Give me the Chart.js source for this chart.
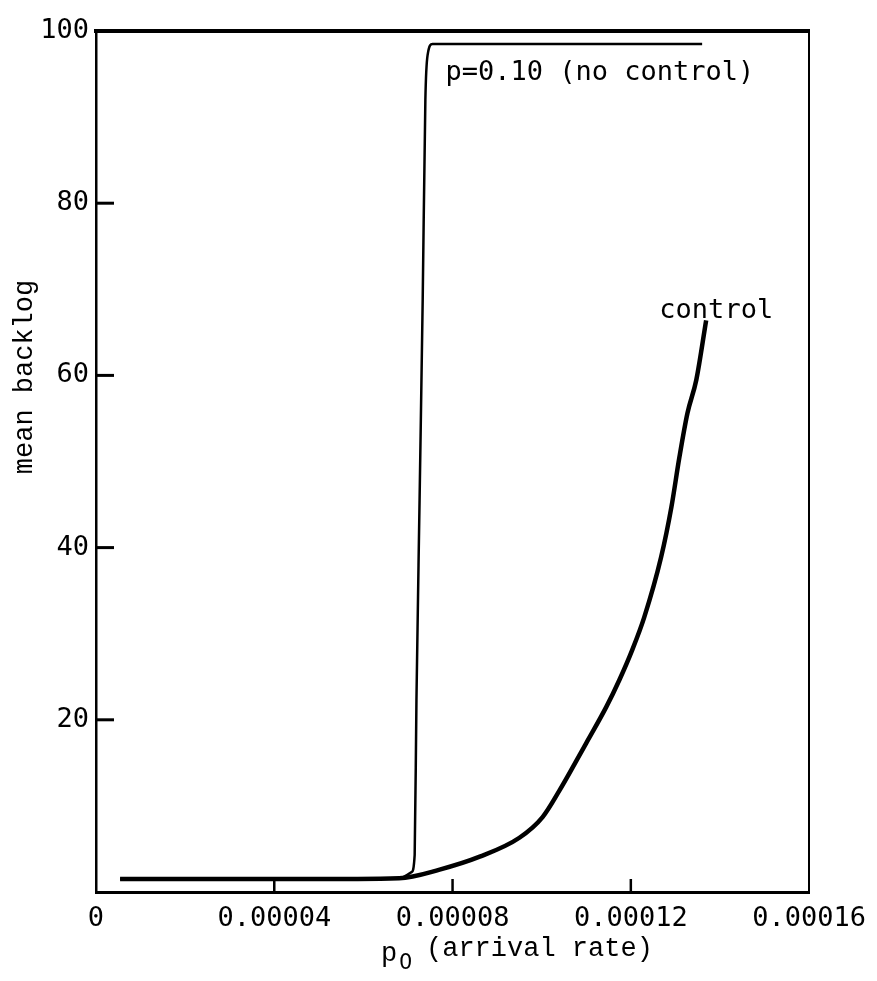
<!DOCTYPE html>
<html>
<head>
<meta charset="utf-8">
<script src="https://cdn.jsdelivr.net/npm/chart.js@4"></script>
<style>
  body { margin: 0; background: #fff; }
  #wrap { width: 877px; height: 981px; }
</style>
</head>
<body>
<div id="wrap"><canvas id="myChart"></canvas></div>
<script>
// arrival rate p0 vs mean backlog
const noControlX = [0.0000054, 0.000068, 0.0000708, 0.0000715, 0.0000719, 0.0000726, 0.0000733, 0.0000739, 0.0000744, 0.0000755, 0.000136];
const noControlY = [1.5, 1.6, 2.3, 4.3, 22.3, 45.5, 68.8, 92, 97.2, 98.5, 98.5];

const controlX = [0.0000054, 0.0000457, 0.000068, 0.0000771, 0.0000861, 0.000095, 0.0001002, 0.000104, 0.00011, 0.0001145, 0.0001174, 0.0001203, 0.000123, 0.0001268, 0.0001291, 0.0001309, 0.0001327, 0.0001347, 0.0001369];
const controlY = [1.5, 1.5, 1.6, 2.6, 4.1, 6.3, 8.7, 11.8, 17.3, 21.5, 24.6, 28.1, 31.9, 38.9, 44.7, 50.5, 55.6, 59.5, 66.4];

const xTickLabels = ['0', '0.00004', '0.00008', '0.00012', '0.00016'];
const yTickLabels = ['', '20', '40', '60', '80', '100'];

const toPoints = (xs, ys) => xs.map((x, i) => ({x: x, y: ys[i]}));

const tickFont = {family: 'DejaVu Sans Mono', size: 27};

// inward tick marks, axis titles and curve labels
const extras = {
  id: 'extras',
  afterDraw(chart) {
    const ctx = chart.ctx;
    const xs = chart.scales.x, ys = chart.scales.y;
    const area = chart.chartArea;
    ctx.save();
    ctx.strokeStyle = '#000';
    ctx.lineCap = 'butt';
    ctx.lineWidth = 3;
    [20, 40, 60, 80].forEach(v => {
      const py = ys.getPixelForValue(v);
      ctx.beginPath();
      ctx.moveTo(area.left, py);
      ctx.lineTo(area.left + 18, py);
      ctx.stroke();
    });
    ctx.lineWidth = 2.5;
    [0.00004, 0.00008, 0.00012].forEach(v => {
      const px = xs.getPixelForValue(v);
      ctx.beginPath();
      ctx.moveTo(px, area.bottom);
      ctx.lineTo(px, area.bottom - 13);
      ctx.stroke();
    });

    ctx.fillStyle = '#000';
    ctx.textBaseline = 'middle';
    ctx.textAlign = 'left';
    ctx.font = '27px "DejaVu Sans Mono"';
    ctx.fillText('p=0.10 (no control)', xs.getPixelForValue(0.0000784), ys.getPixelForValue(95.1));
    ctx.fillText('control', xs.getPixelForValue(0.0001264), ys.getPixelForValue(67.5));

    // x axis title with subscript
    ctx.font = '27px "Liberation Mono"';
    ctx.fillText('p', 381, 954);
    ctx.font = '21px "DejaVu Sans"';
    ctx.fillText('0', 399, 964);
    ctx.font = '27px "Liberation Mono"';
    ctx.fillText('(arrival rate)', 426, 949);

    // y axis title
    ctx.translate(25, 377);
    ctx.rotate(-Math.PI / 2);
    ctx.textAlign = 'center';
    ctx.fillText('mean backlog', 0, 0);
    ctx.restore();
  }
};

const config = {
  type: 'scatter',
  data: {
    datasets: [{
      label: 'p=0.10 (no control)',
      data: toPoints(noControlX, noControlY),
      showLine: true,
      borderColor: '#000',
      borderWidth: 2.5,
      pointRadius: 0,
      cubicInterpolationMode: 'monotone'
    }, {
      label: 'control',
      data: toPoints(controlX, controlY),
      showLine: true,
      borderColor: '#000',
      borderWidth: 4.5,
      pointRadius: 0,
      cubicInterpolationMode: 'monotone'
    }]
  },
  options: {
    responsive: true,
    maintainAspectRatio: false,
    animation: false,
    layout: {padding: {left: 0, top: 31, right: 67, bottom: 0}},
    plugins: {legend: {display: false}, tooltip: {enabled: false}},
    scales: {
      x: {
        type: 'linear',
        min: 0, max: 0.00016,
        afterFit: s => { s.height = 89; },
        afterBuildTicks: s => { s.ticks = xTickLabels.map((t, i) => ({value: i * 0.00004})); },
        grid: {display: false, drawTicks: false},
        border: {color: '#000', width: 3},
        ticks: {
          color: '#000', font: tickFont, padding: 11, maxRotation: 0, autoSkip: false,
          callback: (v, i) => xTickLabels[i]
        }
      },
      y: {
        min: 0, max: 100,
        afterFit: s => { s.width = 96; },
        afterBuildTicks: s => { s.ticks = yTickLabels.map((t, i) => ({value: i * 20})); },
        grid: {display: false, drawTicks: false},
        border: {color: '#000', width: 2.5},
        ticks: {
          color: '#000', font: tickFont, padding: 7,
          callback: (v, i) => yTickLabels[i]
        }
      },
      x2: {
        type: 'linear', position: 'top', min: 0, max: 0.00016,
        afterFit: s => { s.height = 0; },
        grid: {display: false, drawTicks: false},
        border: {color: '#000', width: 4},
        ticks: {display: false}
      },
      y2: {
        type: 'linear', position: 'right', min: 0, max: 100,
        afterFit: s => { s.width = 0; },
        grid: {display: false, drawTicks: false},
        border: {color: '#000', width: 2},
        ticks: {display: false}
      }
    }
  },
  plugins: [extras]
};

const myChart = new Chart(document.getElementById('myChart'), config);
</script>
</body>
</html>
